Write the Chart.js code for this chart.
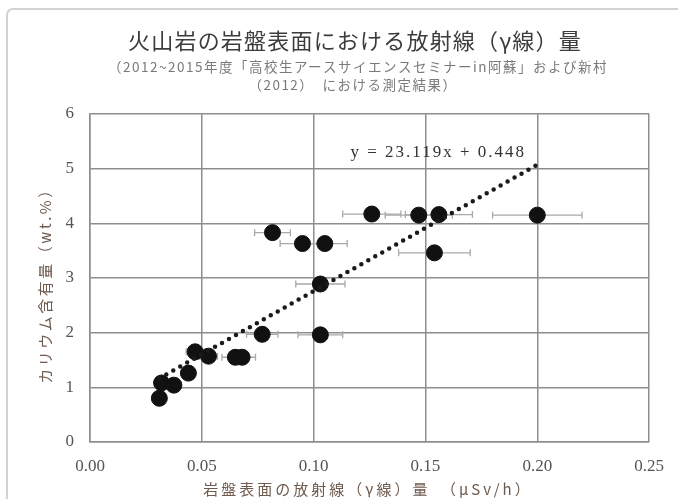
<!DOCTYPE html>
<html lang="ja">
<head>
<meta charset="utf-8">
<title>火山岩の岩盤表面における放射線（γ線）量</title>
<script src="https://cdn.jsdelivr.net/npm/chart.js@4.4.1/dist/chart.umd.min.js"></script>
<style>
  html, body { margin: 0; padding: 0; background: #fff; overflow: hidden; }
  #wrap { width: 678px; height: 499px; }
</style>
</head>
<body>
<div id="wrap"><canvas id="chart" width="678" height="499"></canvas></div>
<script>
// Measured gamma dose rate at the rock surface (μSv/h), its uncertainty,
// and the potassium content of the same rock (wt.%).
const doseRate  = [0.031, 0.032, 0.0375, 0.044, 0.047, 0.053, 0.065, 0.068, 0.077, 0.0816,
                   0.095, 0.105, 0.103, 0.103, 0.126, 0.147, 0.156, 0.154, 0.200];
const doseError = [0.002, 0.002, 0.003, 0.003, 0.004, 0.004, 0.006, 0.006, 0.007, 0.008,
                   0.010, 0.010, 0.011, 0.010, 0.013, 0.015, 0.015, 0.016, 0.020];
const potassium = [0.80, 1.08, 1.04, 1.26, 1.65, 1.57, 1.55, 1.55, 1.97, 3.83,
                   3.63, 3.63, 2.89, 1.96, 4.17, 4.15, 4.16, 3.46, 4.15];

// Linear fit reported on the chart
const fitSlope = 23.119;
const fitIntercept = 0.448;
const fitLabel = 'y = 23.119x + 0.448';

const xTicks = [0, 0.05, 0.10, 0.15, 0.20, 0.25];
const yTicks = [0, 1, 2, 3, 4, 5, 6];

const titleText = '火山岩の岩盤表面における放射線（γ線）量';
const subtitleLines = [
  '（2012~2015年度「高校生アースサイエンスセミナーin阿蘇」および新村',
  '（2012）　における測定結果）'
];
const xTitle = '岩盤表面の放射線（γ線）量　（μSv/h）';
const yTitle = 'カリウム含有量（wt.%）';

const points = doseRate.map((v, i) => ({ x: v, y: potassium[i] }));
const fitX = [Math.min(...doseRate), Math.max(...doseRate)];
const fitPoints = fitX.map(v => ({ x: v, y: fitSlope * v + fitIntercept }));

const CJK = '"Noto Sans CJK JP", "Noto Sans", sans-serif';
const SERIF = '"Liberation Serif", "DejaVu Serif", serif';
const axisTitleColor = '#6e5a4e';

// Frame, heading, axis titles and the fitted-equation label
const headline = {
  id: 'headline',
  beforeDraw(chart) {
    const ctx = chart.ctx;
    ctx.save();
    ctx.fillStyle = '#fff';
    ctx.fillRect(0, 0, chart.width, chart.height);
    ctx.strokeStyle = '#d2d2d2';
    ctx.lineWidth = 2;
    ctx.beginPath();
    ctx.roundRect(7, 9, 720, 540, 6);
    ctx.stroke();

    ctx.textAlign = 'center';
    ctx.textBaseline = 'middle';
    ctx.fillStyle = '#3c3c3c';
    ctx.font = '22px ' + CJK;
    ctx.letterSpacing = '1.2px';
    ctx.fillText(titleText, 355, 41);
    ctx.fillStyle = '#7a7a7a';
    ctx.font = '13.5px ' + CJK;
    ctx.letterSpacing = '1.5px';
    ctx.fillText(subtitleLines[0], 358, 67);
    ctx.fillText(subtitleLines[1], 353, 85);
    ctx.restore();
  },
  afterDatasetsDraw(chart) {
    const { ctx, scales: { x, y } } = chart;
    ctx.save();
    ctx.fillStyle = '#333';
    ctx.font = '17px ' + SERIF;
    ctx.letterSpacing = '2px';
    ctx.textAlign = 'center';
    ctx.textBaseline = 'middle';
    ctx.fillText(fitLabel, x.getPixelForValue(0.1557), y.getPixelForValue(5.30));

    ctx.fillStyle = axisTitleColor;
    ctx.font = '15px ' + CJK;
    ctx.letterSpacing = '3px';
    ctx.fillText(xTitle, 368, 489);

    ctx.letterSpacing = '2.5px';
    ctx.translate(45, 282);
    ctx.rotate(-Math.PI / 2);
    ctx.fillText(yTitle, 0, 0);
    ctx.restore();
  }
};

// Horizontal uncertainty bars on the dose rate
const errorBars = {
  id: 'errorBars',
  beforeDatasetsDraw(chart) {
    const { ctx, scales: { x, y } } = chart;
    ctx.save();
    ctx.strokeStyle = '#a9a9a9';
    ctx.lineWidth = 1.3;
    doseRate.forEach((v, i) => {
      const e = doseError[i];
      const py = y.getPixelForValue(potassium[i]);
      const x0 = x.getPixelForValue(v - e);
      const x1 = x.getPixelForValue(v + e);
      ctx.beginPath();
      ctx.moveTo(x0, py); ctx.lineTo(x1, py);
      ctx.moveTo(x0, py - 3.5); ctx.lineTo(x0, py + 3.5);
      ctx.moveTo(x1, py - 3.5); ctx.lineTo(x1, py + 3.5);
      ctx.stroke();
    });
    ctx.restore();
  }
};

const gridColor = '#8e8e8e';

new Chart(document.getElementById('chart'), {
  type: 'scatter',
  data: {
    datasets: [
      {
        label: '測定値',
        data: points,
        backgroundColor: '#111',
        borderColor: '#111',
        pointRadius: 8,
        pointHoverRadius: 8,
        order: 2
      },
      {
        type: 'line',
        label: fitLabel,
        data: fitPoints,
        borderColor: '#1a1a1a',
        borderWidth: 4.5,
        borderDash: [0, 8],
        borderCapStyle: 'round',
        pointRadius: 0,
        fill: false,
        order: 1
      }
    ]
  },
  options: {
    responsive: false,
    animation: false,
    layout: { padding: { top: 114, right: 21, left: 0, bottom: 0 } },
    plugins: {
      legend: { display: false },
      tooltip: { enabled: false },
      title: { display: false }
    },
    scales: {
      x: {
        type: 'linear',
        min: xTicks[0],
        max: xTicks[xTicks.length - 1],
        afterBuildTicks: s => { s.ticks = xTicks.map(v => ({ value: v })); },
        afterFit: s => { s.height = 57; },
        ticks: {
          callback: v => Number(v).toFixed(2),
          font: { family: SERIF, size: 17 },
          color: '#555',
          padding: 14,
          maxRotation: 0
        },
        grid: { color: gridColor, lineWidth: 1.5, drawTicks: false },
        border: { color: gridColor, width: 1.5 },
        title: { display: false }
      },
      y: {
        type: 'linear',
        min: yTicks[0],
        max: yTicks[yTicks.length - 1],
        afterBuildTicks: s => { s.ticks = yTicks.map(v => ({ value: v })); },
        afterFit: s => { s.width = 90; },
        ticks: {
          callback: v => String(v),
          font: { family: SERIF, size: 17 },
          color: '#555',
          padding: 16
        },
        grid: { color: gridColor, lineWidth: 1.5, drawTicks: false },
        border: { color: gridColor, width: 1.5 },
        title: { display: false }
      }
    }
  },
  plugins: [headline, errorBars]
});
</script>
</body>
</html>
